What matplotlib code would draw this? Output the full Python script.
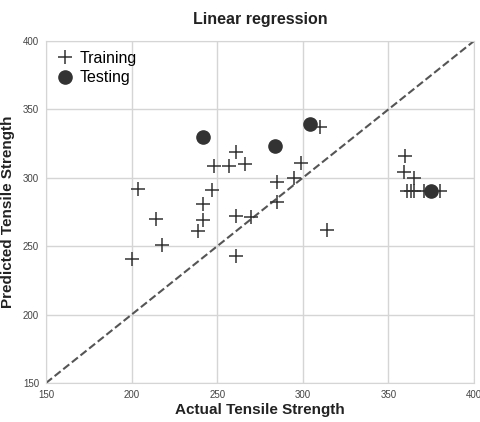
import matplotlib
matplotlib.use("Agg")
from matplotlib import pyplot as plt

#  eğitim verisi (gerçek, tahmin)
train_actual = [200, 204, 214, 218, 239, 242, 242, 247, 248, 257, 261, 261, 261, 266, 270,
                285, 285, 295, 299, 310, 314, 360, 359, 365, 361, 363, 365, 371, 380]
train_pred = [241, 292, 270, 251, 261, 269, 281, 291, 309, 309, 319, 272, 243, 310, 271,
              297, 282, 300, 311, 337, 262, 316, 304, 300, 290, 290, 290, 290, 290]

#  test verisi
test_actual = [242, 284, 304, 375]
test_pred = [330, 323, 339, 290]

ticks = [150, 200, 250, 300, 350, 400]

plt.rcParams['font.family'] = ['Liberation Sans', 'DejaVu Sans']

fig = plt.figure(figsize=(4.81, 4.22), dpi=100)
ax = fig.add_axes([0.0956, 0.0924, 0.8898, 0.8104])

ax.plot(train_actual, train_pred, '+', color='#333333', markersize=10, mew=1.1, label='Training', zorder=3)
ax.plot(test_actual, test_pred, 'o', color='#333333', markersize=9.5, label='Testing', zorder=4)
ax.plot([150, 400], [150, 400], '--', color='#555555', lw=1.5, zorder=2)

ax.set_xlim(150, 400)
ax.set_ylim(150, 400)
ax.set_xticks(ticks)
ax.set_yticks(ticks)
ax.grid(True, color='#d5d5d5', lw=1)
ax.set_axisbelow(True)
ax.tick_params(length=0, labelsize=7, colors='#444444', pad=5)
for s in ax.spines.values():
    s.set_color('#d5d5d5')

ax.set_title("Linear regression", fontsize=11.5, fontweight='bold', color='#222222', pad=12)
ax.set_xlabel("Actual Tensile Strength", fontsize=11, fontweight='bold', color='#222222', labelpad=2)
ax.set_ylabel("Predicted Tensile Strength", fontsize=11, fontweight='bold', color='#222222', labelpad=6)
ax.legend(loc='upper left', frameon=False, fontsize=11.5, handletextpad=0.3,
          borderaxespad=0.2, labelspacing=0.3, handlelength=1.2)

fig.savefig("out.png", dpi=100)
